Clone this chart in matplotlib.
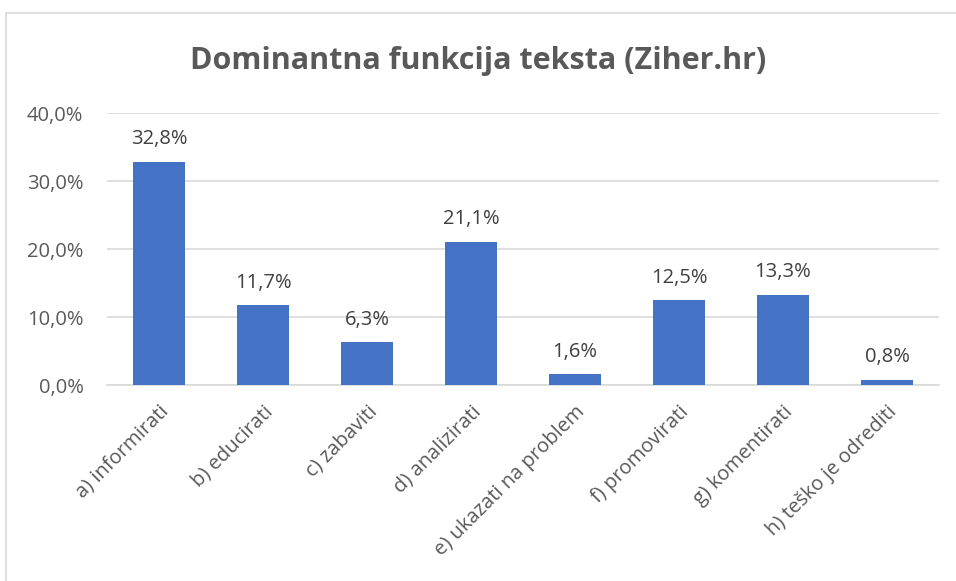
import matplotlib
matplotlib.use("Agg")
import matplotlib.pyplot as plt
from matplotlib.lines import Line2D
from matplotlib.ticker import FuncFormatter

categories = [
    "a) informirati",
    "b) educirati",
    "c) zabaviti",
    "d) analizirati",
    "e) ukazati na problem",
    "f) promovirati",
    "g) komentirati",
    "h) teško je odrediti",
]
values = [32.8, 11.7, 6.3, 21.1, 1.6, 12.5, 13.3, 0.8]
y_ticks = [0, 10, 20, 30, 40]
title = "Dominantna funkcija teksta (Ziher.hr)"

plt.rcParams["font.family"] = ["Open Sans", "DejaVu Sans"]

W, H = 956, 581
fig = plt.figure(figsize=(W / 100, H / 100), dpi=100)
ax = fig.add_axes([107 / W, 1 - 385 / H, 832 / W, 272 / H])

x = range(len(categories))
ax.bar(x, values, width=0.5, color="#4472C4", zorder=3)
ax.set_xlim(-0.5, len(categories) - 0.5)
ax.set_ylim(0, 40)
ax.set_yticks(y_ticks)
ax.yaxis.set_major_formatter(FuncFormatter(lambda v, p: f"{v:.1f}%".replace(".", ",")))
ax.grid(axis="y", color="#D9D9D9", linewidth=1.2, zorder=0)
ax.set_xticks(list(x))
ax.set_xticklabels(categories, rotation=45, ha="right", va="top",
                   rotation_mode="anchor", fontsize=14.5, color="#595959")
ax.tick_params(axis="y", length=0, labelsize=14.5, labelcolor="#595959", pad=17)
ax.tick_params(axis="x", length=0, pad=12)
for s in ["top", "right", "left"]:
    ax.spines[s].set_visible(False)
ax.spines["bottom"].set_color("#D9D9D9")
ax.spines["bottom"].set_linewidth(1.2)

for xi, v in zip(x, values):
    ax.annotate(f"{v:.1f}%".replace(".", ","), (xi, v), xytext=(0, 9),
                textcoords="offset points", ha="center", va="bottom",
                fontsize=14.5, color="#404040")

fig.text(0.5, 1 - 61 / H, title, ha="center", va="center",
         fontsize=22, fontweight="bold", color="#595959")

# outer chart frame
fig.add_artist(Line2D([6 / W, 1.0], [1 - 13 / H, 1 - 13 / H], transform=fig.transFigure,
                      color="#D9D9D9", linewidth=1.2))
fig.add_artist(Line2D([6 / W, 6 / W], [0, 1 - 13 / H], transform=fig.transFigure,
                      color="#D9D9D9", linewidth=1.2))

fig.savefig("out.png", dpi=100)
